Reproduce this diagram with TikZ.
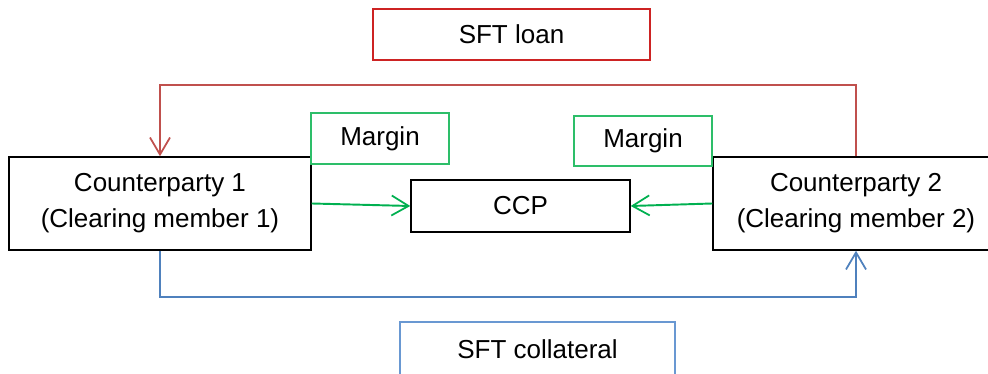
\documentclass[tikz,border=0pt]{standalone}
\usepackage{fontspec}
\setmainfont{Liberation Sans}
\usetikzlibrary{arrows.meta}
\definecolor{loanred}{RGB}{192,80,77}
\definecolor{loanbox}{RGB}{205,35,35}
\definecolor{margingreen}{RGB}{0,176,80}
\definecolor{marginbox}{RGB}{45,190,105}
\definecolor{collblue}{RGB}{79,129,189}
\definecolor{collbox}{RGB}{105,152,210}
\tikzset{
	box/.style={draw, line width=0.85pt, inner sep=0pt, align=center,
		font=\fontsize{14.8}{20.6}\selectfont},
	barb/.style={-{Straight Barb[length=0.34cm, width=0.4cm, line width=1pt]}},
	flow/.style={line width=1.1pt, barb}
}

\begin{document}
\begin{tikzpicture}[x=0.02cm, y=-0.02cm]
			%%%%% START %%%%%
			
			\useasboundingbox (0, 0) rectangle (988, 374);
			
			\node[box, draw=loanbox, minimum width=5.54cm, minimum height=1.02cm] (loan) at (511.5, 34.5) {SFT loan};
			
			\node[box, minimum width=6.04cm, minimum height=1.86cm] (cp1) at (160, 203.5) {Counterparty 1\\(Clearing member 1)};
			\node[box, minimum width=5.72cm, minimum height=1.86cm] (cp2) at (856, 203.5) {Counterparty 2\\(Clearing member 2)};
			
			\node[box, minimum width=4.38cm, minimum height=1.04cm] (ccp) at (520.5, 206) {CCP};
			
			\node[box, draw=marginbox, minimum width=2.76cm, minimum height=1.02cm] (margin1) at (380, 138.5) {Margin};
			\node[box, draw=marginbox, minimum width=2.76cm, minimum height=1.00cm] (margin2) at (643, 141) {Margin};
			
			\node[box, draw=collbox, minimum width=5.5cm, minimum height=1.08cm] (coll) at (537.5, 349) {SFT collateral};
			
			\draw[flow, loanred] (cp2.north) -- ++(0, -71) -| (cp1.north);
			\draw[flow, collblue] (cp1.south) -- ++(0, 46) -| (cp2.south);
			
			\draw[flow, margingreen] (cp1.east) -- (ccp.west);
			\draw[flow, margingreen] (cp2.west) -- (ccp.east);
			
			%%%%% END %%%%%
		\end{tikzpicture}
\end{document}
